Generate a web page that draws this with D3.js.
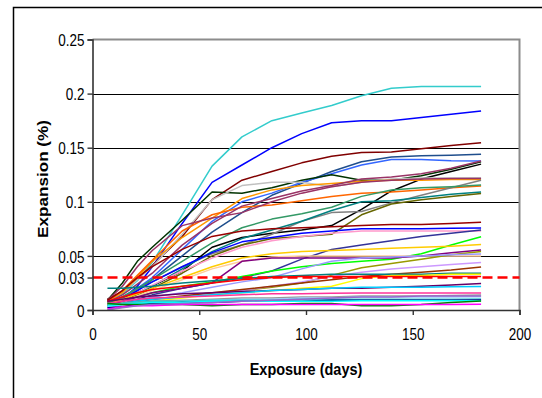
<!DOCTYPE html>
<html>
<head>
<meta charset="utf-8">
<script src="https://cdn.jsdelivr.net/npm/d3@7"></script>
<style>
  body { margin: 0; background: #fff; }
  svg { display: block; font-family: 'Liberation Sans', Arial, sans-serif; }
</style>
</head>
<body>
<svg id="chart" width="542" height="398"></svg>
<script>
// exposure days measured (same for every specimen)
const days = [7, 14, 21, 28, 42, 56, 70, 84, 98, 112, 126, 140, 154, 168, 182];

const xTicks = [0, 50, 100, 150, 200];
const yTicks = [0, 0.03, 0.05, 0.1, 0.15, 0.2, 0.25];
const limit = 0.03;

const seriesColors = [
    '#33cccc', '#0000ff', '#800000', '#1f4e8c', '#3366ff', '#003300', '#000000', '#c0c0c0',
    '#ff9900', '#ff6600', '#993366', '#993366', '#808080', '#339966', '#008080', '#666600',
    '#990000', '#0000ff', '#ff99cc', '#333399', '#00ff00', '#ffcc00', '#ffcc99', '#800080',
    '#999900', '#9999ff', '#cc99ff', '#993300', '#008080', '#ffff00', '#ff0000', '#660066',
    '#00ccff', '#ff3399', '#999999', '#99ccff', '#33cccc', '#000080', '#00ffff', '#008000',
    '#ff00ff', '#9966cc'
];

const seriesValues = [
    [0.008, 0.015, 0.027, 0.044, 0.088, 0.133, 0.160, 0.175, 0.182, 0.189, 0.198, 0.205, 0.2065, 0.2065, 0.2065],
    [0.004, 0.010, 0.022, 0.040, 0.080, 0.118, 0.134, 0.150, 0.163, 0.173, 0.175, 0.175, 0.178, 0.181, 0.184],
    [0.010, 0.017, 0.029, 0.041, 0.068, 0.102, 0.120, 0.128, 0.136, 0.142, 0.1455, 0.146, 0.149, 0.152, 0.1545],
    [0.005, 0.010, 0.018, 0.028, 0.050, 0.072, 0.090, 0.106, 0.117, 0.128, 0.137, 0.1415, 0.1425, 0.143, 0.144],
    [0.006, 0.012, 0.020, 0.030, 0.056, 0.082, 0.100, 0.108, 0.118, 0.126, 0.134, 0.139, 0.139, 0.138, 0.1377],
    [0.009, 0.025, 0.045, 0.058, 0.083, 0.109, 0.108, 0.113, 0.120, 0.125, 0.120, 0.120, 0.124, 0.130, 0.137],
    [0.005, 0.010, 0.016, 0.022, 0.036, 0.058, 0.067, 0.071, 0.074, 0.078, 0.093, 0.110, 0.121, 0.128, 0.1348],
    [0.008, 0.016, 0.028, 0.040, 0.070, 0.102, 0.115, 0.118, 0.118, 0.114, 0.118, 0.121, 0.122, 0.122, 0.1222],
    [0.008, 0.016, 0.030, 0.045, 0.067, 0.085, 0.103, 0.111, 0.115, 0.117, 0.119, 0.120, 0.120, 0.1205, 0.1206],
    [0.008, 0.018, 0.032, 0.046, 0.073, 0.088, 0.095, 0.097, 0.101, 0.105, 0.108, 0.109, 0.111, 0.113, 0.1146],
    [0.007, 0.014, 0.024, 0.034, 0.060, 0.080, 0.096, 0.103, 0.110, 0.115, 0.121, 0.123, 0.126, 0.131, 0.1377],
    [0.009, 0.022, 0.040, 0.055, 0.078, 0.085, 0.090, 0.100, 0.108, 0.114, 0.118, 0.120, 0.121, 0.1215, 0.1215],
    [0.006, 0.012, 0.019, 0.026, 0.040, 0.052, 0.060, 0.070, 0.082, 0.090, 0.091, 0.099, 0.106, 0.113, 0.120],
    [0.006, 0.012, 0.020, 0.028, 0.045, 0.062, 0.076, 0.084, 0.089, 0.095, 0.105, 0.111, 0.113, 0.114, 0.1155],
    [0.005, 0.010, 0.016, 0.022, 0.038, 0.054, 0.066, 0.074, 0.082, 0.092, 0.100, 0.101, 0.104, 0.107, 0.109],
    [0.005, 0.009, 0.014, 0.020, 0.034, 0.050, 0.060, 0.066, 0.068, 0.070, 0.088, 0.098, 0.102, 0.105, 0.1077],
    [0.009, 0.018, 0.030, 0.040, 0.056, 0.068, 0.073, 0.075, 0.076, 0.077, 0.078, 0.079, 0.079, 0.080, 0.081],
    [0.004, 0.010, 0.018, 0.026, 0.040, 0.053, 0.063, 0.067, 0.071, 0.073, 0.075, 0.075, 0.075, 0.0755, 0.0757],
    [0.004, 0.009, 0.016, 0.023, 0.036, 0.048, 0.058, 0.064, 0.068, 0.071, 0.073, 0.073, 0.073, 0.073, 0.073],
    [0.003, 0.006, 0.010, 0.014, 0.020, 0.025, 0.030, 0.036, 0.047, 0.056, 0.060, 0.064, 0.068, 0.071, 0.074],
    [0.004, 0.008, 0.012, 0.016, 0.022, 0.026, 0.031, 0.036, 0.040, 0.043, 0.045, 0.047, 0.052, 0.060, 0.0677],
    [0.005, 0.010, 0.015, 0.020, 0.030, 0.040, 0.048, 0.052, 0.054, 0.055, 0.056, 0.057, 0.058, 0.059, 0.0606],
    [0.004, 0.008, 0.013, 0.018, 0.028, 0.038, 0.045, 0.049, 0.050, 0.050, 0.050, 0.050, 0.050, 0.050, 0.050],
    [0.004, 0.008, 0.012, 0.016, 0.020, 0.025, 0.045, 0.048, 0.048, 0.048, 0.048, 0.048, 0.050, 0.053, 0.0554],
    [0.003, 0.005, 0.007, 0.009, 0.012, 0.015, 0.018, 0.021, 0.025, 0.032, 0.039, 0.043, 0.047, 0.051, 0.054],
    [0.003, 0.006, 0.009, 0.012, 0.016, 0.021, 0.026, 0.030, 0.038, 0.045, 0.048, 0.049, 0.050, 0.051, 0.0517],
    [0.003, 0.005, 0.007, 0.009, 0.012, 0.015, 0.018, 0.022, 0.026, 0.031, 0.035, 0.038, 0.040, 0.042, 0.044],
    [0.004, 0.006, 0.008, 0.010, 0.013, 0.016, 0.019, 0.022, 0.025, 0.028, 0.031, 0.033, 0.035, 0.037, 0.0397],
    [0.020, 0.020, 0.021, 0.022, 0.025, 0.027, 0.029, 0.031, 0.032, 0.033, 0.033, 0.033, 0.033, 0.034, 0.034],
    [0.000, 0.003, 0.006, 0.008, 0.011, 0.014, 0.016, 0.018, 0.020, 0.022, 0.029, 0.032, 0.032, 0.033, 0.033],
    [0.008, 0.012, 0.016, 0.019, 0.022, 0.025, 0.028, 0.030, 0.031, 0.031, 0.031, 0.031, 0.031, 0.031, 0.031],
    [0.008, 0.010, 0.012, 0.013, 0.015, 0.016, 0.017, 0.018, 0.019, 0.020, 0.020, 0.021, 0.022, 0.023, 0.0246],
    [0.004, 0.006, 0.008, 0.010, 0.012, 0.014, 0.016, 0.018, 0.019, 0.020, 0.021, 0.021, 0.021, 0.0215, 0.0218],
    [0.006, 0.008, 0.010, 0.011, 0.012, 0.013, 0.014, 0.015, 0.015, 0.0155, 0.0157, 0.0157, 0.0157, 0.0157, 0.0157],
    [0.004, 0.006, 0.007, 0.008, 0.009, 0.010, 0.011, 0.011, 0.012, 0.012, 0.013, 0.013, 0.013, 0.0135, 0.0139],
    [0.003, 0.005, 0.006, 0.007, 0.008, 0.009, 0.010, 0.010, 0.011, 0.011, 0.012, 0.012, 0.012, 0.012, 0.0123],
    [0.005, 0.006, 0.007, 0.008, 0.008, 0.009, 0.009, 0.009, 0.010, 0.010, 0.010, 0.010, 0.010, 0.010, 0.0102],
    [0.002, 0.003, 0.005, 0.006, 0.007, 0.007, 0.008, 0.008, 0.008, 0.009, 0.009, 0.009, 0.009, 0.009, 0.0092],
    [0.004, 0.005, 0.006, 0.007, 0.007, 0.008, 0.008, 0.008, 0.008, 0.008, 0.0085, 0.0085, 0.0085, 0.0085, 0.0086],
    [0.006, 0.005, 0.005, 0.005, 0.005, 0.004, 0.005, 0.005, 0.006, 0.006, 0.004, 0.004, 0.005, 0.007, 0.0083],
    [0.001, 0.003, 0.004, 0.004, 0.005, 0.005, 0.005, 0.005, 0.005, 0.005, 0.005, 0.005, 0.005, 0.005, 0.0052],
    [0.000, 0.002, 0.004, 0.005, 0.006, 0.007, 0.008, 0.009, 0.010, 0.011, 0.012, 0.012, 0.013, 0.013, 0.013]
];

const svg = d3.select('#chart');

// outer chart frame (clipped on right and bottom like the source)
svg.append('path')
    .attr('d', 'M13.5,400 V7.5 H545')
    .attr('fill', 'none').attr('stroke', '#000').attr('stroke-width', 1.5);

const x = d3.scaleLinear().domain([0, 200]).range([92.5, 519.5]);
const y = d3.scaleLinear().domain([0, 0.25]).range([310, 39.5]);

// gridlines
svg.append('g').selectAll('line')
    .data([0.05, 0.1, 0.15, 0.2])
    .join('line')
    .attr('x1', x(0)).attr('x2', x(200))
    .attr('y1', d => Math.round(y(d)) + 0.5).attr('y2', d => Math.round(y(d)) + 0.5)
    .attr('stroke', '#000').attr('stroke-width', 1);

// plot area border, top and right
svg.append('path')
    .attr('d', `M${x(0)},${y(0.25)} H${x(200)} V${y(0)}`)
    .attr('fill', 'none').attr('stroke', '#8c8c8c').attr('stroke-width', 2);

const line = d3.line()
    .x((d, i) => x(days[i]))
    .y(d => y(d));

svg.append('g').attr('class', 'series')
    .selectAll('path')
    .data(seriesValues)
    .join('path')
    .attr('d', line)
    .attr('fill', 'none')
    .attr('stroke', (d, i) => seriesColors[i])
    .attr('stroke-width', 1.5)
    .attr('stroke-linejoin', 'round');

// 0.03 % limit
svg.append('line')
    .attr('x1', x(0)).attr('x2', x(200))
    .attr('y1', y(limit)).attr('y2', y(limit))
    .attr('stroke', '#ff0000').attr('stroke-width', 2.5)
    .attr('stroke-dasharray', '10,5');

const yAxis = svg.append('g')
    .attr('transform', `translate(${x(0)},0)`)
    .call(d3.axisLeft(y).tickValues(yTicks).tickSize(5).tickFormat(d => String(d)));
const xAxis = svg.append('g')
    .attr('transform', `translate(0,${y(0)})`)
    .call(d3.axisBottom(x).tickValues(xTicks).tickSize(5).tickFormat(d => String(d)));

[yAxis, xAxis].forEach(a => {
    a.select('.domain').attr('stroke', '#333').attr('stroke-width', 1.6);
    a.selectAll('.tick line').attr('stroke', '#333').attr('stroke-width', 1.4);
    a.selectAll('text')
        .attr('font-family', "'Liberation Sans', Arial, sans-serif")
        .attr('font-size', 13.5)
        .attr('fill', '#000');
});
yAxis.selectAll('text').attr('x', -8).attr('dy', '0.36em').attr('transform', 'scale(1,1.26)');
xAxis.selectAll('text').attr('y', 23.6).attr('dy', 0).attr('transform', 'scale(1,1.26)');

svg.append('text')
    .attr('transform', `translate(${(x(0) + x(200)) / 2},375) scale(1,1.12)`)
    .attr('text-anchor', 'middle')
    .attr('font-weight', 'bold').attr('font-size', 14.5)
    .text('Exposure (days)');

svg.append('text')
    .attr('transform', 'translate(48,179) rotate(-90)')
    .attr('text-anchor', 'middle')
    .attr('font-weight', 'bold').attr('font-size', 15)
    .attr('textLength', 118).attr('lengthAdjust', 'spacingAndGlyphs')
    .text('Expansion (%)');
</script>
</body>
</html>
